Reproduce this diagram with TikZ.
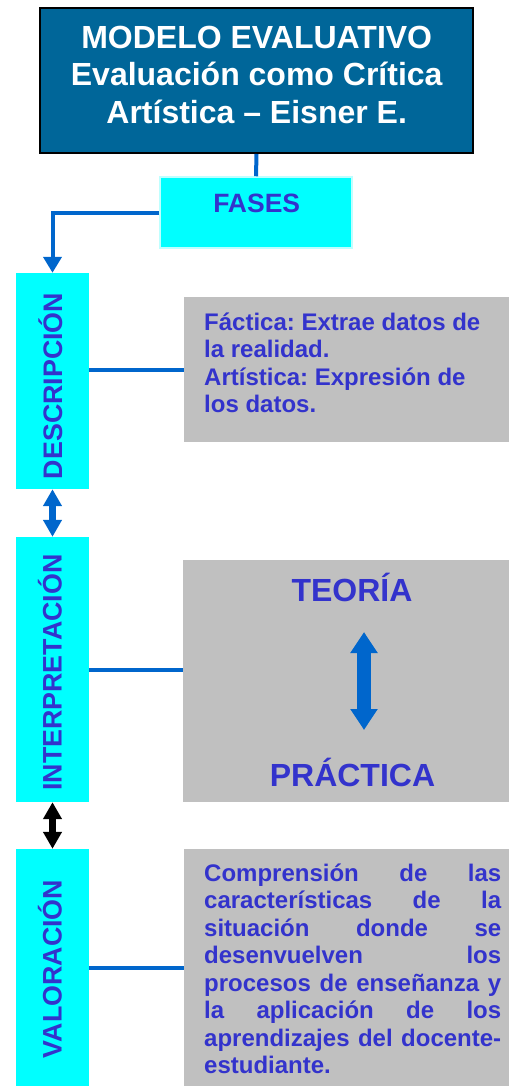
\documentclass[tikz,border=0pt]{standalone}
\usepackage{fontspec}
\setmainfont{Liberation Sans}
\usetikzlibrary{arrows.meta}
\definecolor{titlebg}{RGB}{0,102,153}
\definecolor{linkblue}{RGB}{0,102,204}
\definecolor{txtblue}{RGB}{51,51,204}
\definecolor{boxgrey}{RGB}{192,192,192}
\definecolor{cyanbox}{RGB}{0,255,255}
\definecolor{cyanlite}{RGB}{190,255,255}
\frenchspacing
\begin{document}
\begin{tikzpicture}[x=1pt,y=-1pt,
  cbox/.style={fill=cyanbox, draw=none, inner sep=0, minimum width=73pt},
  gbox/.style={fill=boxgrey, draw=none, inner sep=0},
  vlabel/.style={rotate=90, anchor=base, inner sep=0, text=txtblue, font=\fontsize{26.8}{30}\selectfont\bfseries},
  ttext/.style={anchor=base, inner sep=0, text=white, font=\fontsize{32}{37}\selectfont\bfseries},
  btext/.style={anchor=base west, inner sep=0, text=txtblue, font=\fontsize{24}{27.5}\selectfont\bfseries},
  bigtext/.style={anchor=base, inner sep=0, text=txtblue, font=\fontsize{32}{37}\selectfont\bfseries},
  link/.style={draw=linkblue, line width=4pt},
  dblarrow/.style={line width=7pt, {Triangle[width=18pt,length=17pt]}-{Triangle[width=18pt,length=17pt]}}
]
\useasboundingbox (0,0) rectangle (509,1086);
% title
\node[draw=black, line width=2pt, fill=titlebg, minimum width=433pt, minimum height=145pt, inner sep=0] (title) at (256.5,80.5) {};
\node[ttext] (t1) at (256.7,48.3) {MODELO EVALUATIVO};
\node[ttext] (t2) at (256.7,86) {Evaluación como Crítica};
\node[ttext] (t3) at (256.7,124) {Artística – Eisner E.};
% fases
\node[fill=cyanbox, draw=cyanlite, line width=1.5pt, minimum width=192pt, minimum height=71pt, inner sep=0] (fases) at (256,212.5) {};
\node[anchor=base, inner sep=0, text=txtblue, font=\fontsize{26.5}{30}\selectfont\bfseries] (fasest) at (256.7,212) {FASES};
% phase boxes
\node[cbox, minimum height=216pt] (desc) at (52.5,381) {};
\node[cbox, minimum height=265pt] (interp) at (52.5,669.5) {};
\node[cbox, minimum height=237pt] (valor) at (52.5,967.5) {};
\node[vlabel] (descl) at (62,386) {DESCRIPCIÓN};
\node[vlabel] (interpl) at (61.7,672.5) {INTERPRETACIÓN};
\node[vlabel] (valorl) at (61.7,969) {VALORACIÓN};
% grey boxes
\node[gbox, minimum width=325pt, minimum height=145pt] (dg) at (346.5,369.5) {};
\node[gbox, minimum width=326pt, minimum height=242pt] (ig) at (346,681) {};
\node[gbox, minimum width=325pt, minimum height=237pt] (vg) at (346.5,967.5) {};
\node[btext] (dgt) at (204,330) {\parbox[t]{297pt}{\raggedright Fáctica: Extrae datos de la realidad.\\ Artística: Expresión de los datos.}};
\node[bigtext] (teoria) at (352,601.7) {TEORÍA};
\node[bigtext] (practica) at (352.5,786) {PRÁCTICA};
\node[btext] (vgt) at (204,881) {\parbox[t]{297pt}{%
\makebox[297pt][s]{Comprensión de las}\\
\makebox[297pt][s]{características de la}\\
\makebox[297pt][s]{situación donde se}\\
\makebox[297pt][s]{desenvuelven los}\\
\makebox[297pt][s]{procesos de enseñanza y}\\
\makebox[297pt][s]{la aplicación de los}\\
\makebox[297pt][s]{aprendizajes del docente-}\\
estudiante.}};
% connectors
\draw[link] (title.south) -- (fases.north);
\draw[link, -{Triangle[width=18pt,length=16pt]}] (fases.west) -| (desc.north);
\draw[link] (dg.west -| desc.east) -- (dg.west);
\draw[link] (interp.east) -- (interp.east -| ig.west);
\draw[link] (valor.east) -- (vg.west);
\draw[dblarrow, draw=linkblue, fill=linkblue] (desc.south) -- (interp.north);
\draw[dblarrow, draw=black, fill=black] (interp.south) -- (valor.north);
\coordinate (tpa) at (364,632);
\coordinate (tpb) at (364,730);
\draw[line width=14pt, draw=linkblue, fill=linkblue, {Triangle[width=26pt,length=21pt]}-{Triangle[width=26pt,length=21pt]}] (tpa) -- (tpb);
\end{tikzpicture}
\end{document}
